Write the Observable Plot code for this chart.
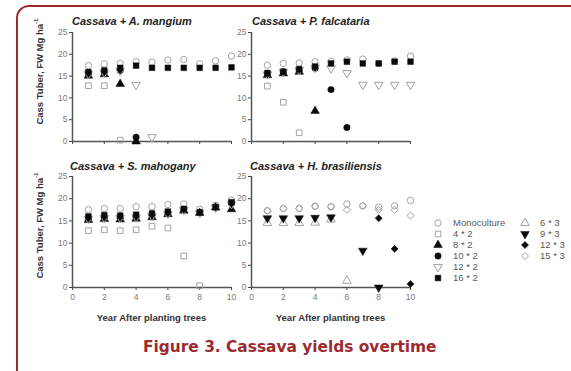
<!DOCTYPE html>
<html><head><meta charset="utf-8">
<script src="https://cdn.jsdelivr.net/npm/d3@7"></script>
<script src="https://cdn.jsdelivr.net/npm/@observablehq/plot@0.6"></script>
<style>
body{margin:0;background:#fff;}
#c{position:relative;width:571px;height:371px;overflow:hidden;background:#fff;font-family:"Liberation Sans",Arial,sans-serif;}
.abs{position:absolute;white-space:nowrap;}
.ttl{font-weight:bold;font-style:italic;font-size:11px;color:#222;line-height:12px;}
.ylab{font-weight:bold;font-size:9.5px;color:#333;width:160px;text-align:center;line-height:12px;transform:rotate(-90deg);}
.xlab{font-weight:bold;font-size:9.5px;color:#333;line-height:12px;width:160px;text-align:center;}
.leg{font-size:9.5px;color:#5a5a5a;line-height:10px;}
</style></head><body><div id="c"></div><script>
// ---- data ----
const years = [1,2,3,4,5,6,7,8,9,10];
const seriesNames = ["Monoculture","4 * 2","8 * 2","10 * 2","12 * 2","16 * 2","6 * 3","9 * 3","12 * 3","15 * 3"];
const panelTitles = ["Cassava + A. mangium","Cassava + P. falcataria","Cassava + S. mahogany","Cassava + H. brasiliensis"];
const yTicks = [0,5,10,15,20,25];
const xTicks = [0,2,4,6,8,10];
const yLabel = "Cass Tuber, FW Mg ha";
const xLabel = "Year After planting trees";
const caption = "Figure 3. Cassava yields overtime";
const _ = null;

// A. mangium
const mangMono = [17.4,17.8,17.9,18.3,18.2,18.7,18.8,17.8,18.5,19.6];
const mang4x2  = [12.8,12.8,0.3,_,_,_,_,_,_,_];
const mang8x2  = [15.1,15.4,13.2,0,_,_,_,_,_,_];
const mang10x2 = [15.8,16.0,16.3,1.0,_,_,_,_,_,_];
const mang12x2 = [15.5,15.8,16.2,13.0,1.0,_,_,_,_,_];
const mang16x2 = [15.9,16.3,16.9,17.4,16.9,16.9,16.9,16.9,16.9,17.0];
// P. falcataria
const falcMono = [17.5,17.9,18.0,18.3,18.4,18.7,18.9,17.9,18.5,19.6];
const falc4x2  = [12.7,9.0,2.0,_,_,_,_,_,_,_];
const falc8x2  = [15.2,15.6,16.0,7.0,_,_,_,_,_,_];
const falc10x2 = [15.6,16.0,16.4,16.8,11.9,3.2,_,_,_,_];
const falc12x2 = [15.4,16.0,16.4,16.9,16.8,15.7,13.0,13.0,13.0,13.0];
const falc16x2 = [15.7,16.0,16.6,17.2,17.9,18.3,17.9,17.9,18.3,18.3];
// S. mahogany
const mahoMono = [17.5,17.8,17.8,18.2,18.2,18.7,18.8,17.6,18.5,19.7];
const maho4x2  = [12.8,13.0,12.8,13.0,13.8,13.4,7.1,0.4,_,_];
const maho8x2  = [15.2,15.4,15.3,15.5,15.8,16.5,17.3,16.8,18.0,17.6];
const maho10x2 = [15.6,15.8,15.6,15.9,16.2,16.8,17.6,16.9,18.0,19.0];
const maho12x2 = [15.5,15.7,15.7,15.8,16.1,16.6,17.5,16.8,18.0,18.8];
const maho16x2 = [16.0,16.3,16.2,16.4,16.7,17.1,17.7,16.9,18.1,19.2];
// H. brasiliensis
const brasMono = [17.3,17.8,17.8,18.3,18.2,18.8,18.4,18.1,18.4,19.6];
const bras6x3  = [14.5,14.5,14.5,14.6,15.3,1.5,_,_,_,_];
const bras9x3  = [15.6,15.6,15.6,15.7,15.8,_,8.3,0,_,_];
const bras12x3 = [_,_,_,_,_,_,_,15.6,8.7,0.8];
const bras15x3 = [17.3,17.8,17.8,18.3,18.2,17.5,18.4,17.5,17.5,16.2];

const panelSeries = [
  {"Monoculture":mangMono,"4 * 2":mang4x2,"8 * 2":mang8x2,"10 * 2":mang10x2,"12 * 2":mang12x2,"16 * 2":mang16x2},
  {"Monoculture":falcMono,"4 * 2":falc4x2,"8 * 2":falc8x2,"10 * 2":falc10x2,"12 * 2":falc12x2,"16 * 2":falc16x2},
  {"Monoculture":mahoMono,"4 * 2":maho4x2,"8 * 2":maho8x2,"10 * 2":maho10x2,"12 * 2":maho12x2,"16 * 2":maho16x2},
  {"Monoculture":brasMono,"6 * 3":bras6x3,"9 * 3":bras9x3,"12 * 3":bras12x3,"15 * 3":bras15x3}
];

// ---- styles ----
const triDown = {draw(ctx, size){ const s3=Math.sqrt(3); const y=-Math.sqrt(size/(s3*3)); ctx.moveTo(0,-y*2); ctx.lineTo(-s3*y,y); ctx.lineTo(s3*y,y); ctx.closePath(); }};
const GRAY = "#a3a3a3", BLACK = "#0a0a0a";
const sym = {"Monoculture":"circle","4 * 2":"square","8 * 2":"triangle","10 * 2":"circle","12 * 2":triDown,"16 * 2":"square","6 * 3":"triangle","9 * 3":triDown,"12 * 3":"diamond2","15 * 3":"diamond2"};
const filled = {"Monoculture":false,"4 * 2":false,"8 * 2":true,"10 * 2":true,"12 * 2":false,"16 * 2":true,"6 * 3":false,"9 * 3":true,"12 * 3":true,"15 * 3":false};

const geo = [
  {x0:72,x10:231,y0:141,y25:32,tx:72,ty:15,labels:false},
  {x0:251,x10:410,y0:141,y25:32,tx:252,ty:15,labels:false},
  {x0:72,x10:231,y0:287,y25:176,tx:70,ty:160,labels:true},
  {x0:251,x10:410,y0:287,y25:176,tx:250,ty:160,labels:true}
];

const root = document.getElementById("c");
function add(html, cls, left, top){ const d=document.createElement("div"); d.className="abs "+cls; d.innerHTML=html; d.style.left=left+"px"; d.style.top=top+"px"; root.appendChild(d); return d; }

// border
const b = document.createElement("div");
Object.assign(b.style,{position:"absolute",left:"16px",top:"5px",width:"600px",height:"400px",border:"2px solid #9c2b30",borderRadius:"13px"});
root.appendChild(b);

panelSeries.forEach((ser, i) => {
  const g = geo[i];
  const mL=30,mR=12,mT=8,mB=22;
  const marks = [
    Plot.axisY({ticks:yTicks,tickSize:3,tickPadding:2,fontSize:8.5,color:"#7a7a7a",stroke:"#444",label:null}),
    Plot.axisX({ticks:xTicks,tickSize:3,tickPadding:3,fontSize:8.5,color:"#7a7a7a",stroke:"#444",label:null,tickFormat: g.labels ? d=>d : ()=>""}),
    Plot.ruleX([0],{stroke:"#555",strokeWidth:1.5}),
    Plot.ruleY([0],{stroke:"#555",strokeWidth:1.5})
  ];
  seriesNames.forEach(s => {
    const vals = ser[s]; if (!vals) return;
    const rows = years.map((yr,k)=>({year:yr,value:vals[k]})).filter(d=>d.value!=null);
    marks.push(Plot.dot(rows,{x:"year",y:"value",symbol:sym[s],r:3.2,
      fill: filled[s]?BLACK:"none", stroke: filled[s]?BLACK:GRAY, strokeWidth: filled[s]?0.5:1}));
  });
  const p = Plot.plot({width:mL+(g.x10-g.x0)+mR,height:mT+(g.y0-g.y25)+mB,marginLeft:mL,marginRight:mR,marginTop:mT,marginBottom:mB,
    x:{domain:[0,10]},y:{domain:[0,25]},style:{fontFamily:"Liberation Sans, Arial, sans-serif",background:"transparent",overflow:"visible"},marks});
  p.style.position="absolute"; p.style.left=(g.x0-mL)+"px"; p.style.top=(g.y25-mT)+"px";
  root.appendChild(p);
  add(panelTitles[i],"ttl",g.tx,g.ty);
  if (g.labels) add(xLabel,"xlab",(g.x0+g.x10)/2-80,312);
});

// y labels
add(yLabel+"<sup style='font-size:6px'>-1</sup>","ylab",38-80,70-6);
add(yLabel+"<sup style='font-size:6px'>-1</sup>","ylab",38-80,224-6);

// legend
const legPos = seriesNames.map((s,k)=>({s, col: k<6?0:1, row: k<6?k:k-6}));
legPos.forEach(({s,col,row})=>{
  const cx = col===0?438:525, tx = col===0?453:540, cy = 223 + row*11;
  const sv = document.createElementNS("http://www.w3.org/2000/svg","svg");
  sv.setAttribute("width",12); sv.setAttribute("height",12);
  Object.assign(sv.style,{position:"absolute",left:(cx-6)+"px",top:(cy-6)+"px",overflow:"visible"});
  const pth = document.createElementNS("http://www.w3.org/2000/svg","path");
  const st = typeof sym[s]==="string" ? ({circle:d3.symbolCircle,square:d3.symbolSquare,triangle:d3.symbolTriangle,diamond2:d3.symbolDiamond2})[sym[s]] : sym[s];
  pth.setAttribute("d", d3.symbol(st, Math.PI*3.2*3.2)());
  pth.setAttribute("transform","translate(6,6)");
  pth.setAttribute("fill", filled[s]?BLACK:"none");
  pth.setAttribute("stroke", filled[s]?BLACK:GRAY);
  pth.setAttribute("stroke-width", filled[s]?0.5:1);
  sv.appendChild(pth); root.appendChild(sv);
  add(s,"leg",tx,cy-5);
});

// caption
const cap = add(caption,"",143,337);
Object.assign(cap.style,{fontFamily:"'DejaVu Sans',sans-serif",fontWeight:"bold",fontSize:"15.4px",color:"#9c2b30",lineHeight:"20px"});
</script></body></html>
